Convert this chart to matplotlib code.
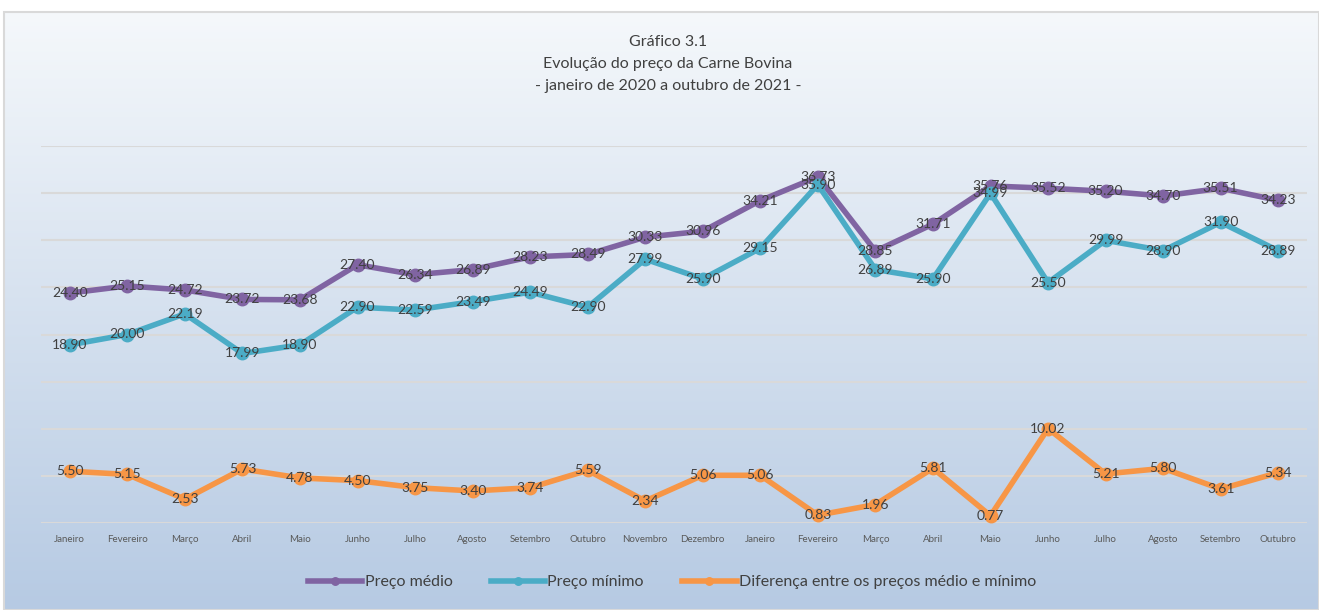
import matplotlib.pyplot as plt
import numpy as np
from matplotlib.patches import Rectangle

meses = ["Janeiro", "Fevereiro", "Março", "Abril", "Maio", "Junho", "Julho", "Agosto",
         "Setembro", "Outubro", "Novembro", "Dezembro", "Janeiro", "Fevereiro", "Março",
         "Abril", "Maio", "Junho", "Julho", "Agosto", "Setembro", "Outubro"]

preco_medio = [24.40, 25.15, 24.72, 23.72, 23.68, 27.40, 26.34, 26.89, 28.23, 28.49, 30.33,
               30.96, 34.21, 36.73, 28.85, 31.71, 35.76, 35.52, 35.20, 34.70, 35.51, 34.23]
preco_minimo = [18.90, 20.00, 22.19, 17.99, 18.90, 22.90, 22.59, 23.49, 24.49, 22.90, 27.99,
                25.90, 29.15, 35.90, 26.89, 25.90, 34.99, 25.50, 29.99, 28.90, 31.90, 28.89]
diferenca = [5.50, 5.15, 2.53, 5.73, 4.78, 4.50, 3.75, 3.40, 3.74, 5.59, 2.34, 5.06, 5.06,
             0.83, 1.96, 5.81, 0.77, 10.02, 5.21, 5.80, 3.61, 5.34]

plt.rcParams['font.family'] = ['Lato', 'DejaVu Sans']

W, H = 1319, 610
fig = plt.figure(figsize=(W / 100, H / 100), dpi=100)

# fundo com gradiente
bg = fig.add_axes([0, 0, 1, 1], zorder=-10)
bg.set_xlim(0, W)
bg.set_ylim(H, 0)
bg.axis('off')
top = np.array([245, 248, 251]) / 255
bot = np.array([182, 202, 227]) / 255
t = np.linspace(0, 1, 300)[:, None]
grad = top + (bot - top) * t
grad = np.repeat(grad[:, None, :], 2, axis=1)
bg.imshow(grad, extent=[4, W, H, 12], aspect='auto')
bg.add_patch(Rectangle((4, 12), W - 4, H - 12, fill=False, edgecolor='#d9d9d9', lw=1.5))

titulo = ["Gráfico 3.1", "Evolução do preço da Carne Bovina", "- janeiro de 2020 a outubro de 2021 -"]
for i, linha in enumerate(titulo):
    bg.text(668, 42 + 22 * i, linha, ha='center', va='center', fontsize=11.5, color='#404040')

ax = fig.add_axes([41 / W, 87 / H, (1307 - 41) / W, (523 - 146) / H])
ax.patch.set_alpha(0)
x = np.arange(len(meses))

series = [
    (preco_medio, '#8064A2', 'Preço médio'),
    (preco_minimo, '#4BACC6', 'Preço mínimo'),
    (diferenca, '#F79646', 'Diferença entre os preços médio e mínimo'),
]
for vals, cor, nome in series:
    ax.plot(x, vals, color=cor, lw=4, marker='o', ms=9, label=nome, zorder=3)
    for xi, v in zip(x, vals):
        ax.text(xi, v, f"{v:.2f}", ha='center', va='center', fontsize=10,
                color='#404040', zorder=4)

ax.set_xlim(-0.5, len(meses) - 0.5)
ax.set_ylim(0, 40)
ax.set_yticks(np.arange(0, 41, 5))
ax.yaxis.grid(True, color='#d9d9d9', lw=1.5)
ax.set_axisbelow(True)
ax.set_yticklabels([])
ax.tick_params(axis='y', length=0)
ax.set_xticks(x)
ax.set_xticklabels(meses, fontsize=7, color='#595959')
ax.tick_params(axis='x', length=0, pad=9)
for s in ax.spines.values():
    s.set_visible(False)

leg = fig.legend(*ax.get_legend_handles_labels(), loc='center', bbox_to_anchor=(672 / W, 1 - 582 / H),
                 ncol=3, frameon=False, fontsize=11.5, labelcolor='#404040', handlelength=3.4,
                 columnspacing=2.4, handletextpad=0.15, markerscale=0.6)

fig.savefig('out.png', dpi=100)
